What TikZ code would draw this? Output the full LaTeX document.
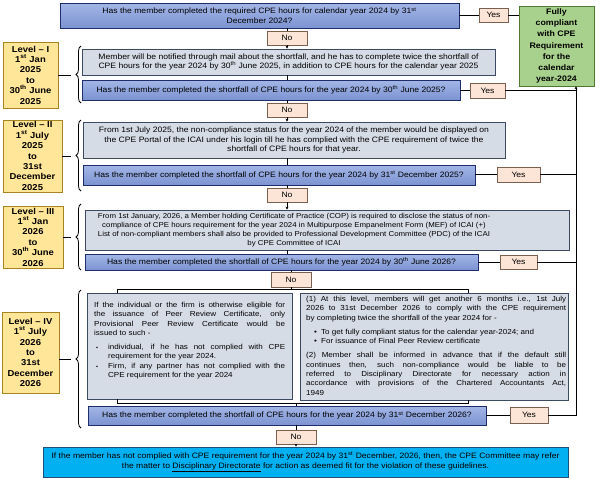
\documentclass[tikz,border=0pt]{standalone}
\usepackage{fontspec}
\setmainfont{Liberation Sans}[FakeStretch=1.1]
\usetikzlibrary{arrows.meta,decorations.pathreplacing}
\definecolor{qtop}{HTML}{A3B6E6}
\definecolor{qbot}{HTML}{7C93D2}
\definecolor{qborder}{HTML}{1F2D6B}
\definecolor{ifill}{HTML}{D6DCE6}
\definecolor{iborder}{HTML}{3B4A60}
\definecolor{ynfill}{HTML}{FCE4D6}
\definecolor{ynborder}{HTML}{7A5E4E}
\definecolor{lvfill}{HTML}{FFE699}
\definecolor{lvborder}{HTML}{A88420}
\definecolor{gfill}{HTML}{A9D18E}
\definecolor{gborder}{HTML}{4E7A34}
\definecolor{bfill}{HTML}{00B0F0}
\definecolor{bborder}{HTML}{1F4E79}
\newcommand{\fsA}{\fontsize{7.8}{9.3}\selectfont}
\newcommand{\fsC}{\fontsize{7.15}{9.2}\selectfont}
\newcommand{\fsQ}{\fontsize{7.8}{9.3}\selectfont}
\newcommand{\fsB}{\fontsize{7.3}{9.3}\selectfont}
\newcommand{\fsL}{\fontsize{8.6}{10.4}\selectfont\bfseries}
\newcommand{\fsG}{\fontsize{8.0}{11.2}\selectfont\bfseries}
\newcommand{\mybox}[7]{%
  \pgfmathsetmacro{\mbw}{#5-#3}\pgfmathsetmacro{\mbh}{#6-#4}%
  \pgfmathsetmacro{\mbx}{(#3+#5)/2}\pgfmathsetmacro{\mby}{(#4+#6)/2}%
  \node[#2, minimum width=\mbw pt, minimum height=\mbh pt, inner sep=0pt] (#1) at (\mbx,\mby) {#7};}
\newcommand{\sq}{\makebox[14pt][l]{\hspace{2pt}{\fontsize{5}{5}\selectfont ▪}}}
\newcommand{\rb}{\makebox[15pt][l]{\hspace{8pt}•}}
\begin{document}
\begin{tikzpicture}[x=1pt,y=-1pt,
  qbox/.style={draw=qborder, line width=0.9pt, top color=qtop, bottom color=qbot, align=center, font=\fsQ},
  ibox/.style={draw=iborder, line width=0.8pt, fill=ifill, align=center, font=\fsA},
  txt/.style={inner sep=0pt, align=center, font=\fsC},
  yn/.style={draw=ynborder, line width=0.7pt, fill=ynfill, font=\fsQ},
  lv/.style={draw=lvborder, line width=0.6pt, fill=lvfill, align=center, font=\fsL},
  gbox/.style={draw=gborder, line width=0.7pt, fill=gfill, align=center, font=\fsG},
  fbox/.style={draw=bborder, line width=0.8pt, fill=bfill, align=center, font=\fsA},
  conn/.style={line width=0.9pt, black},
  arr/.style={line width=0.9pt, black, -{Stealth[length=3pt,width=3pt]}},
  brc/.style={line width=0.8pt, black, decorate, decoration={brace, amplitude=5pt}}]
\useasboundingbox (0,0) rectangle (600,477);
\fill[white] (0,0) rectangle (600,477);

% top
\mybox{topq}{qbox}{60}{3}{459}{28}{Has the member completed the required CPE hours for calendar year 2024 by 31\textsuperscript{st}\\December 2024?}
\mybox{yes0}{yn}{479}{8}{508}{22}{Yes}
\mybox{green}{gbox}{519}{6}{594}{86}{Fully\\compliant\\with CPE\\Requirement\\for the\\calendar\\year-2024}
\mybox{no1}{yn}{267}{31}{307}{45}{No}

% level I
\mybox{lev1}{lv}{3}{42}{58}{108}{Level – I\\1\textsuperscript{st} Jan\\2025\\to\\30\textsuperscript{th} June\\2025}
\mybox{info1}{ibox}{82}{49}{495}{75}{Member will be notified through mail about the shortfall, and he has to complete twice the shortfall of\\CPE hours for the year 2024 by 30\textsuperscript{th} June 2025, in addition to CPE hours for the calendar year 2025}
\mybox{q1}{qbox}{82}{80}{460}{100}{Has the member completed the shortfall of CPE hours for the year 2024 by 30\textsuperscript{th} June 2025?}
\mybox{yes1}{yn}{470}{83}{505}{98}{Yes}
\mybox{no2}{yn}{267}{103}{307}{117}{No}

% level II
\mybox{lev2}{lv}{3}{120}{62}{192}{Level – II\\1\textsuperscript{st} July\\2025\\to\\31st\\December\\2025}
\mybox{info2}{ibox}{83}{122}{505}{158}{From 1st July 2025, the non-compliance status for the year 2024 of the member would be displayed on\\the CPE Portal of the ICAI under his login till he has complied with the CPE requirement of twice the\\shortfall of CPE hours for that year.}
\mybox{q2}{qbox}{83}{165}{475}{185}{Has the member completed the shortfall of CPE hours for the year 2024 by 31\textsuperscript{st} December 2025?}
\mybox{yes2}{yn}{497}{167}{540}{182}{Yes}
\mybox{no3}{yn}{267}{188}{307}{202}{No}

% level III
\mybox{lev3}{lv}{3}{206}{63}{268}{Level – III\\1\textsuperscript{st} Jan\\2026\\to\\30\textsuperscript{th} June\\2026}
\mybox{info3}{ibox}{85}{210}{569}{250}{}
\node[txt] (info3text) at (294,230) {From 1st January, 2026, a Member holding Certificate of Practice (COP) is required to disclose the status of non-\\compliance of CPE hours requirement for the year 2024 in Multipurpose Empanelment Form (MEF) of ICAI (+)\\List of non-compliant members shall also be provided to Professional Development Committee (PDC) of the ICAI\\by CPE Committee of ICAI};
\mybox{q3}{qbox}{85}{254}{478}{270}{Has the member completed the shortfall of CPE hours for the year 2024 by 30\textsuperscript{th} June 2026?}
\mybox{yes3}{yn}{500}{255}{537}{269}{Yes}
\mybox{no4}{yn}{271}{272}{311}{287}{No}

% level IV
\mybox{lev4}{lv}{2}{312}{59}{393}{Level – IV\\1\textsuperscript{st} July\\2026\\to\\31st\\December\\2026}
\mybox{left}{ibox}{87}{293}{292}{399}{}
\node[anchor=north west, inner sep=0pt, text width=191pt, align=justify, font=\fsB] (lefttext) at (94,302) {If the individual or the firm is otherwise eligible for\linebreak the issuance of Peer Review Certificate, only\linebreak Provisional Peer Review Certificate would be\linebreak issued to such -\par\vspace{5pt}
\hangindent=14pt\hangafter=1\noindent\sq individual, if he has not complied with CPE\linebreak requirement for the year 2024.\par
\hangindent=14pt\hangafter=1\noindent\sq Firm, if any partner has not complied with the\linebreak CPE requirement for the year 2024\par};
\mybox{right}{ibox}{300}{293}{568}{400}{}
\node[anchor=north west, inner sep=0pt, text width=260pt, align=justify, font=\fsB] (righttext) at (306,296) {(1) At this level, members will get another 6 months i.e., 1st July\linebreak 2026 to 31st December 2026 to comply with the CPE requirement\linebreak by completing twice the shortfall of the year 2024 for -\par\vspace{5pt}
\hangindent=15pt\hangafter=1\noindent\rb To get fully compliant status for the calendar year-2024; and\par
\hangindent=15pt\hangafter=1\noindent\rb For issuance of Final Peer Review certificate\par\vspace{5pt}
(2) Member shall be informed in advance that if the default still\linebreak continues then, such non-compliance would be liable to be\linebreak referred to Disciplinary Directorate for necessary action in\linebreak accordance with provisions of the Chartered Accountants Act,\linebreak 1949\par};
\mybox{q4}{qbox}{88}{406}{486}{425}{Has the member completed the shortfall of CPE hours for the year 2024 by 31\textsuperscript{st} December 2026?}
\mybox{yes4}{yn}{510}{407}{548}{423}{Yes}
\mybox{no5}{yn}{276}{430}{316}{444}{No}
\mybox{final}{fbox}{43}{447}{568}{477}{If the member has not complied with CPE requirement for the year 2024 by 31\textsuperscript{st} December, 2026, then, the CPE Committee may refer\\the matter to \underline{Disciplinary Directorate} for action as deemed fit for the violation of these guidelines.}

% coordinates
\coordinate (vl) at (576,0);
\coordinate (sL) at (117,289);
\coordinate (sR) at (468,289);
\coordinate (bL) at (117,403);
\coordinate (bR) at (468,403);

% vertical flow
\draw[conn] (no1.north |- topq.south) -- (no1.north);
\draw[arr] (no1.south) -- (no1.south |- info1.north);
\draw[conn] (no1.south |- info1.south) -- (no1.south |- q1.north);
\draw[conn] (no2.north |- q1.south) -- (no2.north);
\draw[arr] (no2.south) -- (no2.south |- info2.north);
\draw[conn] (no2.south |- info2.south) -- (no2.south |- q2.north);
\draw[conn] (no3.north |- q2.south) -- (no3.north);
\draw[arr] (no3.south) -- (no3.south |- info3.north);
\draw[conn] (no3.south |- info3.south) -- (no3.south |- q3.north);
\draw[conn] (no4.north |- q3.south) -- (no4.north);
\draw[conn] (no4.south) -- (no4.south |- sL);
\draw[conn] (sL |- left.north) -- (sL) -- (sR) -- (sR |- right.north);
\draw[conn] (bL |- left.south) -- (bL) -- (bR) -- (bR |- right.south);
\draw[conn] (no5.north |- bL) -- (no5.north |- q4.north);
\draw[conn] (no5.north |- q4.south) -- (no5.north);
\draw[arr] (no5.south) -- (no5.south |- final.north);

% yes flow
\draw[conn] (topq.east |- yes0.west) -- (yes0.west);
\draw[conn] (yes0.east) -- (yes0.east -| green.west);
\draw[conn] (q1.east |- yes1.west) -- (yes1.west);
\draw[conn] (yes1.east) -- (yes1.east -| vl);
\draw[conn] (q2.east |- yes2.west) -- (yes2.west);
\draw[conn] (yes2.east) -- (yes2.east -| vl);
\draw[conn] (q3.east |- yes3.west) -- (yes3.west);
\draw[conn] (yes3.east) -- (yes3.east -| vl);
\draw[conn] (q4.east |- yes4.west) -- (yes4.west);
\draw[arr] (yes4.east) -- (yes4.east -| vl) -- (vl |- green.south);

% braces
\draw[brc] (81,103) -- (81,46);
\draw[conn] (lev1.east) -- (71,75);
\draw[brc] (81,191) -- (81,120);
\draw[conn] (lev2.east) -- (71,156);
\draw[brc] (81,270) -- (81,204);
\draw[conn] (lev3.east) -- (71,237);
\draw[brc] (81,428) -- (81,290);
\draw[conn] (lev4.east |- 0,359) -- (71,359);
\end{tikzpicture}
\end{document}
